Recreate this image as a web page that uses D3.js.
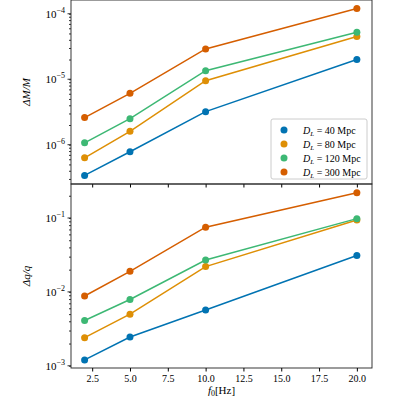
<!DOCTYPE html><html><head><script src="https://cdn.jsdelivr.net/npm/d3@7"></script>
<style>body{margin:0}text{font-family:"Liberation Serif","DejaVu Serif",serif}</style></head><body><svg id="c" width="400" height="400"></svg>
<script>
const freqs=[2,5,10,20];
const labels=["D_L = 40 Mpc","D_L = 80 Mpc","D_L = 120 Mpc","D_L = 300 Mpc"];
const dists=["40","80","120","300"];
const colors=["#0173b2","#de8f05","#3db874","#d55e00"];
const mcErr=[[3.4e-7,7.8e-7,3.2e-6,2.0e-5],[6.3e-7,1.6e-6,9.5e-6,4.5e-5],[1.07e-6,2.5e-6,1.35e-5,5.2e-5],[2.6e-6,6.1e-6,2.9e-5,1.2e-4]];
const qErr=[[1.2e-3,2.45e-3,5.7e-3,3.1e-2],[2.4e-3,5.0e-3,2.2e-2,9.4e-2],[4.1e-3,7.9e-3,2.7e-2,9.8e-2],[8.8e-3,1.9e-2,7.5e-2,0.22]];
const xTicks=[2.5,5,7.5,10,12.5,15,17.5,20];
const svg=d3.select("#c");
const L=71,R=372;
const x=d3.scaleLinear().domain([1.1,21]).range([L,R]);
function panel(top,bot,dom,data,ylab,showX){
  const y=d3.scaleLog().domain(dom).range([bot,top]);
  const g=svg.append("g");
  const series=data.map((d,i)=>({i,pts:d.map((v,j)=>[freqs[j],v])}));
  series.forEach(s=>{
    g.append("path").attr("d",d3.line().x(d=>x(d[0])).y(d=>y(d[1]))(s.pts)).attr("fill","none").attr("stroke",colors[s.i]).attr("stroke-width",1.5);
    g.selectAll(null).data(s.pts).join("circle").attr("cx",d=>x(d[0])).attr("cy",d=>y(d[1])).attr("r",3.5).attr("fill",colors[s.i]);
  });
  const ya=d3.axisLeft(y).tickFormat(()=> "").tickSizeInner(2).tickSizeOuter(0);
  const yg=g.append("g").attr("transform",`translate(${L},0)`).call(ya);
  yg.selectAll(".tick line").attr("stroke","#333");
  const decades=d3.range(Math.ceil(Math.log10(dom[0])),Math.floor(Math.log10(dom[1]))+1);
  decades.forEach(e=>{
    g.append("line").attr("x1",L-3.5).attr("x2",L).attr("y1",y(10**e)).attr("y2",y(10**e)).attr("stroke","#333");
    const t=g.append("text").attr("x",L-6).attr("y",y(10**e)+4).attr("text-anchor","end").attr("font-size",11);
    t.append("tspan").text("10");
    t.append("tspan").attr("dy",-5).attr("font-size",8).text("−"+(-e));
  });
  yg.select(".domain").remove();
  g.append("rect").attr("x",L).attr("y",top).attr("width",R-L).attr("height",bot-top).attr("fill","none").attr("stroke","#222").attr("stroke-width",0.9);
  const xa=d3.axisBottom(x).tickValues(xTicks).tickSizeInner(3.5).tickSizeOuter(0).tickFormat(showX?d3.format(".1f"):()=> "");
  const xg=g.append("g").attr("transform",`translate(0,${bot})`).call(xa);
  xg.select(".domain").remove();
  xg.selectAll("text").attr("font-size",10).attr("font-family","Liberation Serif");
  g.append("text").attr("transform",`translate(30,${(top+bot)/2}) rotate(-90)`).attr("text-anchor","middle").attr("font-size",11).attr("font-style","italic").text(ylab);
  return y;
}
panel(0,184,[10**-6.6,10**-3.79],mcErr,"ΔM/M",false);
panel(184,368,[10**-3.03,10**-0.54],qErr,"Δq/q",true);
const lx=svg.append("text").attr("x",(L+R)/2).attr("y",394).attr("text-anchor","middle").attr("font-size",11);
lx.append("tspan").attr("font-style","italic").text("f");
lx.append("tspan").attr("font-size",8).attr("dy",2).text("0");
lx.append("tspan").attr("dy",-2).text("[Hz]");
const lg=svg.append("g");
lg.append("rect").attr("x",271).attr("y",119).attr("width",96).attr("height",60).attr("rx",2).attr("fill","white").attr("stroke","#ccc");
dists.forEach((d,i)=>{
  const yy=130+i*14;
  lg.append("circle").attr("cx",284).attr("cy",yy).attr("r",3.5).attr("fill",colors[i]);
  const t=lg.append("text").attr("x",303).attr("y",yy+3.5).attr("font-size",10);
  t.append("tspan").attr("font-style","italic").text("D");
  t.append("tspan").attr("font-style","italic").attr("font-size",7).attr("dy",2).text("L");
  t.append("tspan").attr("dy",-2).text(" = "+d+" Mpc");
});
</script></body></html>
